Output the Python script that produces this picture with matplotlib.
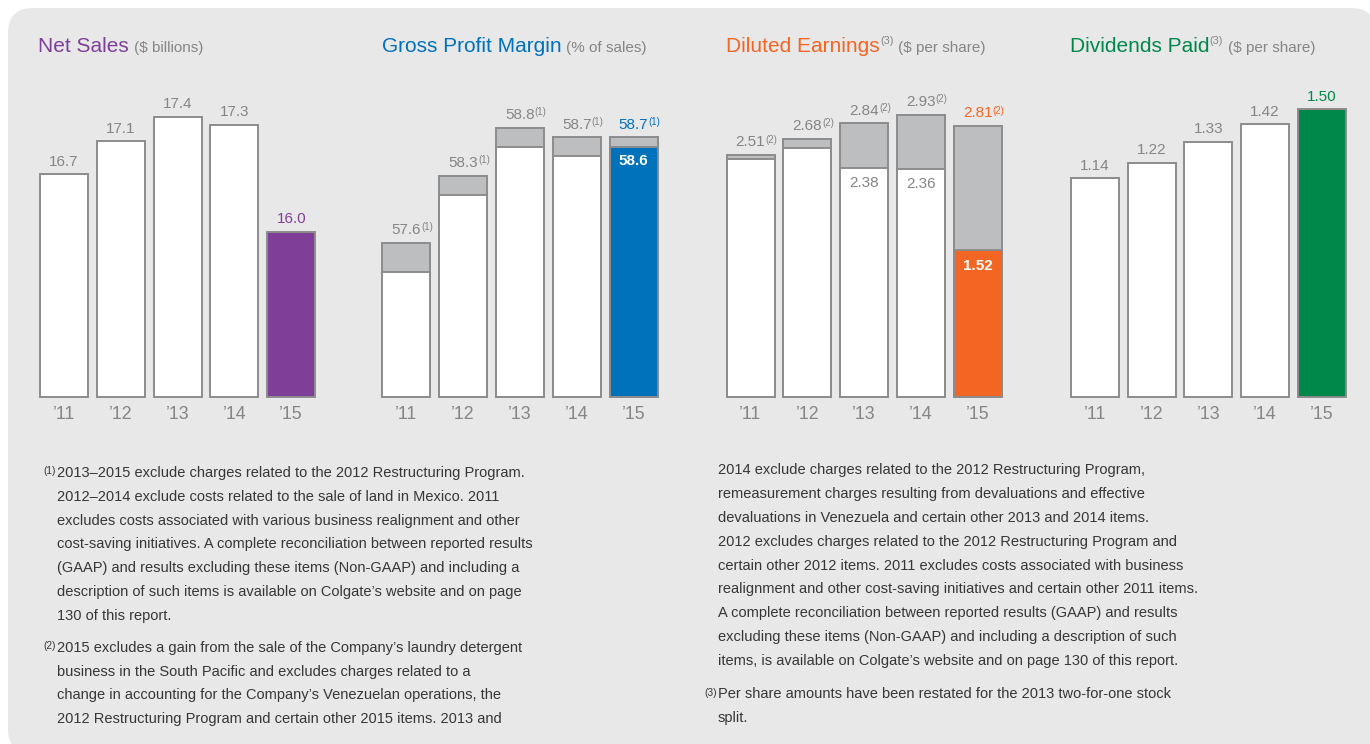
import numpy as np
import matplotlib
matplotlib.use("Agg")
import matplotlib.pyplot as plt
from matplotlib import font_manager
from matplotlib.patches import FancyBboxPatch

# --- data ---
years = ["’11", "’12", "’13", "’14", "’15"]
net_sales = [16.7, 17.1, 17.4, 17.3, 16.0]
gpm_adjusted = [57.6, 58.3, 58.8, 58.7, 58.7]
gpm_reported = [57.3, 58.1, 58.6, 58.5, 58.6]
eps_adjusted = [2.51, 2.68, 2.84, 2.93, 2.81]
eps_reported = [2.47, 2.58, 2.38, 2.36, 1.52]
eps_reported_shown = [False, False, True, True, True]
dividends = [1.14, 1.22, 1.33, 1.42, 1.50]

note1 = ["2013–2015 exclude charges related to the 2012 Restructuring Program.",
         "2012–2014 exclude costs related to the sale of land in Mexico. 2011",
         "excludes costs associated with various business realignment and other",
         "cost-saving initiatives. A complete reconciliation between reported results",
         "(GAAP) and results excluding these items (Non-GAAP) and including a",
         "description of such items is available on Colgate’s website and on page",
         "130 of this report."]
note2a = ["2015 excludes a gain from the sale of the Company’s laundry detergent",
          "business in the South Pacific and excludes charges related to a",
          "change in accounting for the Company’s Venezuelan operations, the",
          "2012 Restructuring Program and certain other 2015 items. 2013 and"]
note2b = ["2014 exclude charges related to the 2012 Restructuring Program,",
          "remeasurement charges resulting from devaluations and effective",
          "devaluations in Venezuela and certain other 2013 and 2014 items.",
          "2012 excludes charges related to the 2012 Restructuring Program and",
          "certain other 2012 items. 2011 excludes costs associated with business",
          "realignment and other cost-saving initiatives and certain other 2011 items.",
          "A complete reconciliation between reported results (GAAP) and results",
          "excluding these items (Non-GAAP) and including a description of such",
          "items, is available on Colgate’s website and on page 130 of this report."]
note3 = ["Per share amounts have been restated for the 2013 two-for-one stock",
         "split."]

# --- styles ---
W, H = 1370, 744
PURPLE, BLUE, ORANGE, GREEN = "#7f3f98", "#0071bb", "#f26522", "#00884a"
GRAY_TXT = "#858585"
EDGE = "#8c8c8c"
EXCL = "#bcbec0"
BG = "#e8e8e9"
NOTE_TXT = "#363636"

names = {f.name for f in font_manager.fontManager.ttflist}
NARROW = "Liberation Sans Narrow" in names
plt.rcParams["font.family"] = ["Liberation Sans", "DejaVu Sans"]
note_family = ["Liberation Sans Narrow", "DejaVu Sans"] if NARROW else ["Liberation Sans", "DejaVu Sans"]
note_size = 12.3 if NARROW else 10.55

fig = plt.figure(figsize=(W / 100, H / 100), dpi=100)
fig.patch.set_facecolor("white")
bg = FancyBboxPatch((0.08, -0.1), 13.68, 7.44 - 0.08 + 0.1,
                    boxstyle="round,pad=0,rounding_size=0.25",
                    transform=fig.dpi_scale_trans, fc=BG, ec="none", zorder=-1)
fig.add_artist(bg)

BASE = 396.7   # bar baseline, px from top
SP = 56.8      # bar spacing, px
BW = 48 / SP   # bar width in data units


def panel_ax(c0, ymin, ppu, top=80):
    h = BASE - top
    ax = fig.add_axes([(c0 - SP / 2) / W, (H - BASE) / H, 5 * SP / W, h / H])
    ax.set_xlim(-0.5, 4.5)
    ax.set_ylim(ymin, ymin + h / ppu)
    ax.patch.set_visible(False)
    for s in ax.spines.values():
        s.set_visible(False)
    ax.set_yticks([])
    ax.set_xticks(range(5), years)
    ax.tick_params(axis="x", length=0, pad=6.5, labelsize=12.8, labelcolor=GRAY_TXT)
    return ax


def bars(ax, vals, ymin, fills):
    v = np.array(vals) - ymin
    ax.bar(range(5), v, width=BW, bottom=ymin, color=fills, edgecolor=EDGE,
           linewidth=1.4, clip_on=False, zorder=2)


def top_labels(ax, vals, fmt, last_color, sup=None):
    for i, v in enumerate(vals):
        c = last_color if i == 4 else GRAY_TXT
        t = ax.annotate(fmt.format(v), xy=(i, v), xytext=(0, 6.2), textcoords="offset points",
                        ha="center", va="baseline", fontsize=11, color=c, annotation_clip=False)
        if sup:
            ax.annotate(sup, xy=(1, 1), xycoords=t, xytext=(0, 0.6), textcoords="offset points",
                        ha="left", va="top", fontsize=7, color=c, annotation_clip=False)


def title(ax, x_px, main, color, sub, sup=None):
    t = ax.annotate(main, xy=(x_px, H - 51.7), xycoords="figure pixels", fontsize=15,
                    color=color, ha="left", va="baseline", annotation_clip=False)
    prev = t
    if sup:
        prev = ax.annotate(sup, xy=(1, 1), xycoords=t, xytext=(0.2, 0.3), textcoords="offset points",
                           fontsize=7.8, color=GRAY_TXT, ha="left", va="top", annotation_clip=False)
    ax.annotate(sub, xy=(1, 0), xycoords=(prev, t), xytext=(3.5, 0.8), textcoords="offset points",
                fontsize=11, color=GRAY_TXT, ha="left", va="bottom", annotation_clip=False)


# Net Sales
ax1 = panel_ax(64, 14.0, 82.4)
bars(ax1, net_sales, 14.0, ["white"] * 4 + [PURPLE])
top_labels(ax1, net_sales, "{:.1f}", PURPLE)
title(ax1, 38, "Net Sales", PURPLE, "($ billions)")

# Gross Profit Margin
ax2 = panel_ax(406.3, 56.0, 96.1)
bars(ax2, gpm_adjusted, 56.0, [EXCL] * 5)
bars(ax2, gpm_reported, 56.0, ["white"] * 4 + [BLUE])
top_labels(ax2, gpm_adjusted, "{:.1f}", BLUE, sup="(1)")
ax2.annotate(f"{gpm_reported[4]:.1f}", xy=(4, gpm_reported[4]), xytext=(0, -5.5),
             textcoords="offset points", ha="center", va="top", fontsize=11,
             color="white", fontweight="bold", zorder=3)
title(ax2, 382, "Gross Profit Margin", BLUE, "(% of sales)")

# Diluted Earnings
ax3 = panel_ax(750.5, 0.0, 96.3)
bars(ax3, eps_adjusted, 0.0, [EXCL] * 5)
bars(ax3, eps_reported, 0.0, ["white"] * 4 + [ORANGE])
top_labels(ax3, eps_adjusted, "{:.2f}", ORANGE, sup="(2)")
for i, (v, shown) in enumerate(zip(eps_reported, eps_reported_shown)):
    if shown:
        last = i == 4
        ax3.annotate(f"{v:.2f}", xy=(i, v), xytext=(0, -6.5 if last else -5.8),
                     textcoords="offset points", ha="center", va="top", fontsize=11,
                     color="white" if last else GRAY_TXT,
                     fontweight="bold" if last else "normal", zorder=3)
title(ax3, 726, "Diluted Earnings", ORANGE, "($ per share)", sup="(3)")

# Dividends Paid
ax4 = panel_ax(1094.7, 0.0, 191.7)
bars(ax4, dividends, 0.0, ["white"] * 4 + [GREEN])
top_labels(ax4, dividends, "{:.2f}", GREEN)
title(ax4, 1070, "Dividends Paid", GREEN, "($ per share)", sup="(3)")

# --- footnotes ---
STEP = 23.9


def note_block(x_px, y0_px, lines, marker=None):
    first = None
    for k, line in enumerate(lines):
        t = fig.text(x_px / W, 1 - (y0_px + k * STEP) / H, line, fontsize=note_size,
                     family=note_family, color=NOTE_TXT, ha="left", va="baseline")
        if first is None:
            first = t
    if marker:
        ax1.annotate(marker, xy=(0, 1), xycoords=first, xytext=(-0.8, -0.3),
                     textcoords="offset points", ha="right", va="top", fontsize=7.3,
                     family=note_family, color=NOTE_TXT, annotation_clip=False)


note_block(57, 476.7, note1, "(1)")
note_block(57, 651.7, note2a, "(2)")
note_block(718, 474.0, note2b)
note_block(718, 698.3, note3, "(3)")

fig.savefig("out.png", dpi=100, facecolor="white")
